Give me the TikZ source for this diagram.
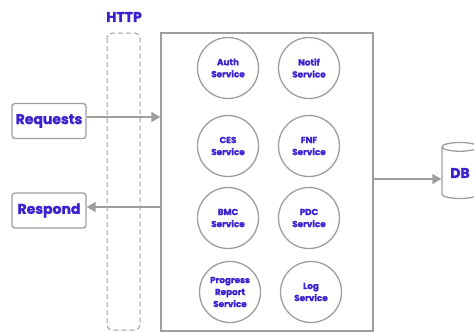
\documentclass[tikz,border=0pt]{standalone}
\usepackage{fontspec}
\setmainfont{Poppins}[BoldFeatures={FakeBold=1.6}]
\usetikzlibrary{shapes.geometric,arrows.meta}
\definecolor{edge}{HTML}{9E9E9E}
\definecolor{ink}{HTML}{3A22CF}
\tikzset{
  every node/.style={font=\bfseries, text=ink},
  line/.style={draw=edge, line width=1.3pt},
  svc/.style={circle, line, minimum size=61pt, inner sep=0pt, align=center, font=\bfseries\fontsize{8.8}{12}\selectfont},
  endbox/.style={rectangle, rounded corners=3pt, line, minimum width=74pt, minimum height=35pt, font=\bfseries\fontsize{14}{16}\selectfont},
  flow/.style={line, -{Triangle[length=9pt, width=10pt]}},
  store/.style={cylinder, shape border rotate=90, aspect=0.45, line, minimum width=36pt, minimum height=56pt, inner sep=0pt, font=\bfseries\fontsize{14}{16}\selectfont}
}
\begin{document}
\begin{tikzpicture}[x=1pt, y=-1pt]
\useasboundingbox (0,0) rectangle (474,332);

% HTTP layer
\node[font=\bfseries\fontsize{14}{16}\selectfont] (http) at (124,17) {HTTP};
\draw[draw=edge, line width=1pt, dashed, dash pattern=on 5pt off 3pt, rounded corners=5pt] (107,33) rectangle (140,330);

% service container
\node[rectangle, line, minimum width=212pt, minimum height=298pt, inner sep=0pt] (core) at (267,182) {};

% services
\node[svc] (auth) at (228,68) {Auth\\Service};
\node[svc] (notif) at (309,68) {Notif\\Service};
\node[svc] (ces) at (228,146) {CES\\Service};
\node[svc] (fnf) at (309,146) {FNF\\Service};
\node[svc] (bmc) at (228,218) {BMC\\Service};
\node[svc] (pdc) at (309,218) {PDC\\Service};
\node[svc] (prog) at (230,292) {Progress\\Report\\Service};
\node[svc] (log) at (311,292) {Log\\Service};

% clients
\node[endbox] (req) at (49,121) {Requests};
\node[endbox] (resp) at (49,210.5) {Respond};

% database
\node[store] (db) at (460,173) {DB};

% connectors
\coordinate (inR) at (core.west |- 0,117);
\coordinate (outR) at (core.west |- 0,207);
\coordinate (dbR) at (core.east |- 0,179);
\draw[flow] (req.east |- inR) -- (inR);
\draw[flow] (outR) -- (resp.east |- outR);
\draw[flow] (dbR) -- (db.west |- dbR);
\end{tikzpicture}
\end{document}
